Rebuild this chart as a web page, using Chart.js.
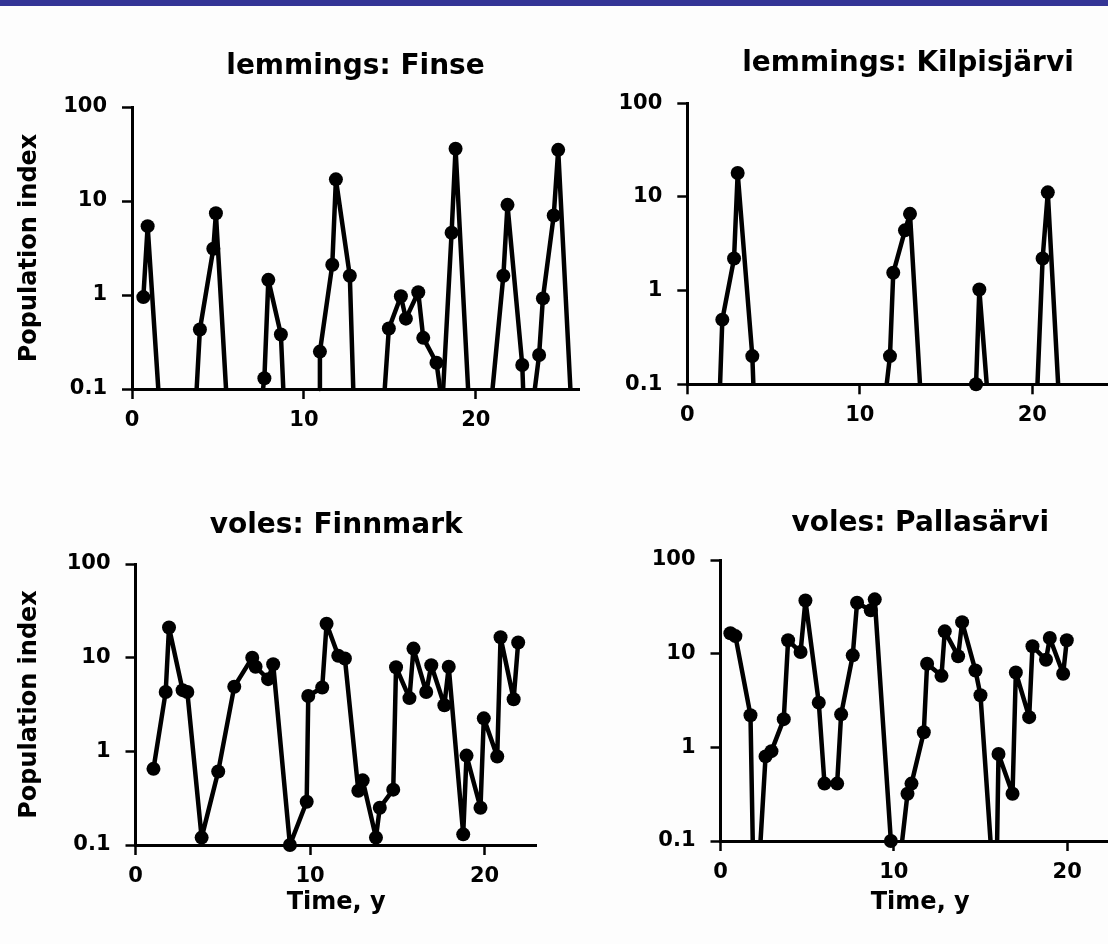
<!DOCTYPE html>
<html><head><meta charset="utf-8">
<script src="https://cdn.jsdelivr.net/npm/chart.js@4.4.1/dist/chart.umd.min.js"></script>
<style>
html,body{margin:0;padding:0;background:#fdfdfd;width:1108px;height:944px;overflow:hidden;position:relative}
#bar{position:absolute;left:0;top:0;width:1108px;height:6px;background:#343596}
canvas{position:absolute}
</style></head><body>
<div id="bar"></div>
<canvas id="c1"></canvas><canvas id="c2"></canvas><canvas id="c3"></canvas><canvas id="c4"></canvas>
<script>
// ---- tick labels ----
const xTickValues = [0, 10, 20];
const xTickLabels = ['0', '10', '20'];
const yTickValues = [0.1, 1, 10, 100];
const yTickLabels = ['0.1', '1', '10', '100'];
const FLOOR = 0.1; // 0 = below detection, drawn on the axis floor

// ---- lemmings: Finse ----
const finseYears  = [0.66,0.91,1.53, 3.76,3.95,4.73,4.88,5.47, 7.62,7.7,7.93,8.66,8.8, 10.88,10.93,11.65,11.86,12.67,12.87, 14.7,14.94,15.64,15.93,16.65,16.94,17.71,17.92, 18.1,18.59,18.82,19.55, 20.97,21.6,21.84,22.7,22.75, 23.43,23.68,23.9,24.53,24.79,25.5];
const finseValues = [0.95,5.4,0, 0,0.43,3.1,7.4,0, 0,0.13,1.45,0.38,0, 0,0.25,2.1,17,1.6,0, 0,0.44,0.97,0.56,1.07,0.35,0.19,0, 0,4.6,36,0, 0,1.6,9.1,0.18,0, 0,0.23,0.92,7,35,0];

// ---- lemmings: Kilpisjärvi ----
const kilpisYears  = [1.9,2.03,2.71,2.92,3.77,3.83, 11.56,11.75,11.94,12.62,12.91,13.49, 16.74,16.93,17.36, 20.3,20.6,20.9,21.5];
const kilpisValues = [0,0.49,2.2,18,0.2,0, 0,0.2,1.55,4.4,6.6,0, 0.1,1.03,0, 0,2.2,11.2,0];

// ---- voles: Finnmark ----
const finnYears  = [1.03,1.73,1.92,2.7,2.97,3.79,4.74,5.66,6.69,6.88,7.6,7.89,8.85,9.81,9.9,10.7,10.95,11.62,12.0,12.77,13.02,13.78,14.0,14.77,14.93,15.7,15.93,16.66,16.95,17.7,17.95,18.78,18.97,19.77,19.96,20.73,20.92,21.67,21.93];
const finnValues = [0.65,4.3,21,4.5,4.3,0.12,0.61,4.9,10,8,5.9,8.5,0.1,0.29,3.9,4.8,23,10.5,9.8,0.38,0.49,0.12,0.25,0.39,7.9,3.7,12.5,4.3,8.3,3.1,8,0.13,0.9,0.25,2.25,0.88,16.5,3.6,14.5];

// ---- voles: Pallasärvi ----
const pallasYears  = [0.57,0.86,1.73,1.86,2.31,2.6,2.94,3.65,3.9,4.62,4.9,5.67,6.0,6.73,6.96,7.63,7.88,8.67,8.9,9.83,10.48,10.79,11.02,11.73,11.92,12.75,12.94,13.71,13.94,14.71,15.0,15.58,15.96,16.04,16.85,17.04,17.81,18.0,18.78,19.0,19.77,19.98];
const pallasValues = [16.5,15.4,2.2,0,0,0.8,0.91,2,13.9,10.4,37,3,0.41,0.41,2.25,9.6,35,29,38,0.1,0,0.32,0.41,1.45,7.8,5.8,17.3,9.4,21.7,6.6,3.6,0,0,0.85,0.32,6.3,2.1,12,8.6,14.7,6.1,13.9];

const tickFont = {family: 'DejaVu Sans', weight: 'bold', size: 21};
const axisTitleFont = {family: 'DejaVu Sans', weight: 'bold', size: 24};
const titleFont = {family: 'DejaVu Sans', weight: 'bold', size: 28};

function makeChart(p, years, values, title) {
  const cv = document.getElementById(p.id);
  cv.width = p.w; cv.height = p.h;
  cv.style.left = p.x + 'px'; cv.style.top = p.y + 'px';
  const pts = years.map((x, i) => ({x: x, y: values[i] > FLOOR ? values[i] : FLOOR}));
  const onFloor = i => values[i] <= FLOOR;
  new Chart(cv, {
    type: 'line',
    data: {datasets: [{
      data: pts,
      borderColor: '#000', backgroundColor: '#000', borderWidth: 4.5,
      pointRadius: c => values[c.dataIndex] > 0 ? 7 : 0,
      pointHoverRadius: 0, pointBorderWidth: 0, pointBackgroundColor: '#000',
      tension: 0, clip: false, borderJoinStyle: 'round',
      segment: {borderColor: c => (onFloor(c.p0DataIndex) && onFloor(c.p1DataIndex)) ? 'rgba(0,0,0,0)' : undefined}
    }]},
    options: {
      responsive: false, animation: false, events: [],
      layout: {padding: {top: p.padTop, right: p.padRight, left: 0, bottom: 0}},
      plugins: {
        legend: {display: false}, tooltip: {enabled: false},
        title: {display: true, text: title, fullSize: false, color: '#000', font: titleFont,
                padding: {top: 0, bottom: p.titleGap}}
      },
      scales: {
        x: {
          type: 'linear', min: 0, max: p.xMax, position: 'bottom',
          afterFit: s => { s.height = p.xH; },
          afterBuildTicks: s => { s.ticks = xTickValues.map(v => ({value: v})); },
          ticks: {color: '#000', font: tickFont, padding: 9, maxRotation: 0, autoSkip: false,
                  callback: v => xTickLabels[xTickValues.indexOf(v)]},
          grid: {display: true, drawOnChartArea: false, drawTicks: true, tickLength: 10, tickWidth: 2.5, color: '#000'},
          border: {display: true, color: '#000', width: 3},
          title: {display: p.xTitle, text: 'Time, y', color: '#000', font: axisTitleFont, padding: {top: 0, bottom: 27}}
        },
        y: {
          type: 'logarithmic', min: 0.1, max: 100, position: 'left',
          afterFit: s => { s.width = p.yW; },
          afterBuildTicks: s => { s.ticks = yTickValues.map(v => ({value: v})); },
          ticks: {color: '#000', font: tickFont, padding: 15, autoSkip: false,
                  callback: (v, i) => yTickLabels[i]},
          grid: {display: true, drawOnChartArea: false, drawTicks: true, tickLength: 10, tickWidth: 2.5, color: '#000'},
          border: {display: true, color: '#000', width: 3},
          title: {display: p.yTitle, text: 'Population index', color: '#000', font: axisTitleFont, padding: {top: 15.6, bottom: 0}}
        }
      }
    }
  });
}

makeChart({id:'c1', x:0, y:6, w:620, h:460, yW:132, padRight:41, xH:77, padTop:44.2, titleGap:23.2, xMax:26, xTitle:false, yTitle:true},
          finseYears, finseValues, 'lemmings: Finse');
makeChart({id:'c2', x:560, y:6, w:600, h:460, yW:127.3, padRight:31.3, xH:81.7, padTop:41.2, titleGap:22.5, xMax:25.59, xTitle:false, yTitle:false},
          kilpisYears, kilpisValues, 'lemmings: Kilpisjärvi');
makeChart({id:'c3', x:0, y:470, w:620, h:474, yW:135.5, padRight:83.15, xH:99, padTop:39.2, titleGap:21.2, xMax:23, xTitle:true, yTitle:true},
          finnYears, finnValues, 'voles: Finnmark');
makeChart({id:'c4', x:560, y:470, w:600, h:474, yW:160.5, padRight:40, xH:103, padTop:37.2, titleGap:19.2, xMax:23.05, xTitle:true, yTitle:false},
          pallasYears, pallasValues, 'voles: Pallasärvi');
</script>
</body></html>
